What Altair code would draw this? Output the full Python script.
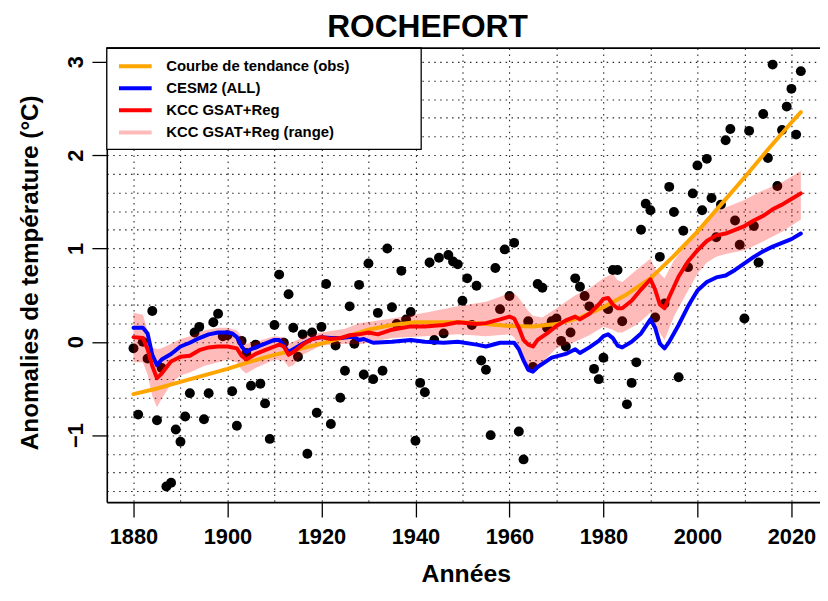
import altair as alt
import pandas as pd

# ---------------- data ----------------
OBS_START = 1880
OBS_VALUES = [
    -0.07, -0.78, 0.00, -0.18, 0.33, -0.84, -0.28, -1.55, -1.51, -0.94,   # 1880-1889
    -1.07, -0.80, -0.55, 0.10, 0.16, -0.83, -0.55, 0.21, 0.30, 0.06,      # 1890-1899
    0.07, -0.53, -0.90, 0.01, -0.12, -0.47, -0.03, -0.45, -0.66, -1.04,   # 1900-1909
    0.18, 0.72, -0.01, 0.51, 0.15, -0.16, 0.08, -1.20, 0.10, -0.76,       # 1910-1919
    0.16, 0.62, -0.88, -0.04, -0.60, -0.31, 0.38, -0.02, 0.61, -0.35,     # 1920-1929
    0.84, -0.40, 0.31, -0.31, 1.00, 0.37, 0.19, 0.76, 0.24, 0.32,         # 1930-1939
    -1.06, -0.44, -0.54, 0.85, 0.02, 0.90, 0.09, 0.93, 0.86, 0.83,        # 1940-1949
    0.44, 0.68, 0.18, 0.60, -0.20, -0.30, -1.00, 0.79, 0.35, 0.99,        # 1950-1959
    0.49, 1.06, -0.96, -1.26, 0.22, -0.27, 0.62, 0.58, 0.15, 0.22,        # 1960-1969
    0.25, 0.01, -0.05, 0.10, 0.68, 0.59, 0.49, 0.38, -0.29, -0.40,        # 1970-1979
    -0.17, 0.35, 0.77, 0.77, 0.22, -0.67, -0.44, -0.22, 1.20, 1.48,       # 1980-1989
    1.41, 0.26, 0.91, 0.41, 1.66, 1.39, -0.38, 1.19, 0.80, 1.59,          # 1990-1999
    1.89, 1.41, 1.96, 1.54, 1.12, 1.47, 2.16, 2.28, 1.30, 1.04,           # 2000-2009
    0.25, 2.26, 1.24, 0.85, 2.44, 1.97, 2.97, 1.67, 2.27, 2.52,           # 2010-2019
    2.71, 2.22, 2.90,                                                      # 2020-2022
]

TREND_YEARS = [1880, 1885, 1890, 1895, 1900, 1905, 1910, 1915, 1920, 1925, 1930,
               1935, 1940, 1945, 1950, 1955, 1960, 1965, 1970, 1975, 1980, 1985,
               1990, 1995, 2000, 2005, 2010, 2015, 2020, 2022]
TREND_VALUES = [-0.56, -0.50, -0.43, -0.36, -0.29, -0.21, -0.14, -0.08, -0.02, 0.05, 0.13,
                0.18, 0.21, 0.21, 0.21, 0.19, 0.17, 0.165, 0.19, 0.26, 0.37, 0.51,
                0.68, 0.92, 1.18, 1.47, 1.76, 2.06, 2.35, 2.46]

CESM_YEARS = [1880, 1882, 1883, 1884, 1885, 1886, 1888, 1890, 1892, 1894, 1896, 1898,
              1900, 1901, 1902, 1903, 1904, 1905, 1906, 1908, 1910, 1911, 1912, 1913,
              1914, 1916, 1918, 1920, 1922, 1924, 1926, 1927, 1928, 1929, 1931, 1935,
              1939, 1942, 1946, 1949, 1953, 1955, 1958, 1961, 1962, 1963, 1964, 1965,
              1966, 1969, 1972, 1974, 1975, 1977, 1979, 1980, 1981, 1982, 1983, 1984,
              1986, 1988, 1990, 1991, 1992, 1993, 1994, 1996, 1998, 2000, 2002, 2004,
              2006, 2008, 2010, 2012, 2014, 2016, 2018, 2020, 2022]
CESM_VALUES = [0.15, 0.15, 0.09, -0.14, -0.25, -0.19, -0.13, -0.05, -0.01, 0.04, 0.08, 0.10,
               0.10, 0.09, 0.05, -0.05, -0.11, -0.08, -0.06, -0.02, 0.02, 0.02, -0.04, -0.11,
               -0.08, -0.02, 0.03, 0.05, 0.04, 0.04, 0.05, 0.05, 0.02, 0.03, -0.01, 0.00,
               0.02, 0.00, -0.01, 0.00, -0.03, -0.05, -0.01, -0.01, -0.08, -0.20, -0.30, -0.32,
               -0.27, -0.17, -0.13, -0.08, -0.12, -0.06, 0.01, 0.06, 0.08, 0.04, -0.04, -0.06,
               0.00, 0.09, 0.24, 0.15, -0.02, -0.07, 0.00, 0.18, 0.38, 0.55, 0.64, 0.69,
               0.71, 0.77, 0.84, 0.91, 0.97, 1.02, 1.06, 1.10, 1.16]

KCC_YEARS = [1880, 1882, 1883, 1884, 1885, 1886, 1888, 1890, 1892, 1894, 1896, 1898,
             1900, 1902, 1903, 1904, 1905, 1906, 1908, 1910, 1911, 1912, 1913, 1914,
             1916, 1918, 1920, 1922, 1924, 1926, 1928, 1930, 1932, 1935, 1939, 1942,
             1946, 1949, 1953, 1955, 1958, 1960, 1961, 1962, 1963, 1964, 1965, 1966,
             1968, 1970, 1972, 1974, 1975, 1977, 1979, 1980, 1981, 1982, 1983, 1984,
             1986, 1988, 1990, 1991, 1992, 1993, 1994, 1996, 1998, 2000, 2002, 2004,
             2006, 2008, 2010, 2012, 2014, 2016, 2018, 2020, 2022]
KCC_VALUES = [0.05, 0.04, -0.08, -0.26, -0.39, -0.34, -0.21, -0.16, -0.15, -0.09, -0.06, -0.05,
              -0.05, -0.07, -0.15, -0.19, -0.16, -0.13, -0.09, -0.05, -0.03, -0.05, -0.14, -0.11,
              -0.03, 0.03, 0.05, 0.03, 0.04, 0.07, 0.08, 0.10, 0.08, 0.13, 0.165, 0.165,
              0.18, 0.21, 0.19, 0.20, 0.24, 0.27, 0.25, 0.15, 0.02, -0.03, -0.05, 0.02,
              0.09, 0.17, 0.23, 0.27, 0.24, 0.30, 0.40, 0.46, 0.47, 0.40, 0.36, 0.36,
              0.44, 0.56, 0.67, 0.56, 0.40, 0.36, 0.48, 0.70, 0.86, 0.98, 1.08, 1.14,
              1.16, 1.20, 1.24, 1.30, 1.35, 1.42, 1.47, 1.53, 1.59]

RANGE_YEARS = [1880, 1882, 1883, 1884, 1885, 1886, 1888, 1890, 1892, 1895, 1898, 1900,
               1902, 1903, 1904, 1906, 1910, 1912, 1913, 1914, 1916, 1920, 1925, 1928,
               1935, 1942, 1949, 1955, 1960, 1961, 1962, 1963, 1964, 1965, 1967, 1970,
               1974, 1977, 1980, 1982, 1983, 1984, 1987, 1990, 1991, 1993, 1995, 1998,
               2000, 2002, 2004, 2006, 2010, 2013, 2018, 2022]
RANGE_LOW = [-0.22, -0.22, -0.35, -0.58, -0.70, -0.61, -0.45, -0.36, -0.33, -0.26, -0.22, -0.19,
             -0.22, -0.30, -0.34, -0.28, -0.19, -0.20, -0.27, -0.25, -0.14, -0.04, -0.02, -0.03,
             0.04, 0.06, 0.08, 0.06, 0.08, 0.05, -0.05, -0.20, -0.28, -0.31, -0.22, -0.07,
             0.00, 0.07, 0.16, 0.13, 0.10, 0.10, 0.18, 0.31, 0.17, 0.02, 0.27, 0.55,
             0.73, 0.85, 0.91, 0.94, 0.98, 1.05, 1.18, 1.31]
RANGE_HIGH = [0.31, 0.29, 0.12, -0.06, -0.08, -0.07, -0.02, 0.03, 0.06, 0.12, 0.15, 0.15,
              0.12, 0.06, -0.02, 0.00, 0.06, 0.05, -0.02, 0.00, 0.05, 0.10, 0.14, 0.20,
              0.25, 0.31, 0.38, 0.43, 0.52, 0.52, 0.47, 0.40, 0.33, 0.28, 0.26, 0.36,
              0.50, 0.57, 0.68, 0.73, 0.66, 0.64, 0.77, 0.89, 0.78, 0.68, 0.87, 1.06,
              1.19, 1.33, 1.40, 1.44, 1.52, 1.60, 1.71, 1.83]

SERIES = ["Courbe de tendance (obs)", "CESM2 (ALL)", "KCC GSAT+Reg", "KCC GSAT+Reg (range)"]
SERIES_COLORS = ["#FFA500", "#0000FF", "#FF0000", "rgba(255,0,0,0.27)"]
SERIES_WIDTHS = [4, 4, 4, 14]

TITLE = "ROCHEFORT"

GRID_X = [1880, 1890, 1900, 1910, 1920, 1930, 1940, 1950, 1960, 1970, 1980, 1990,
          2000, 2010, 2020]
GRID_Y = [-1.6, -1.4, -1.2, -1.0, -0.8, -0.6, -0.4, -0.2, 0.0, 0.2, 0.4, 0.6, 0.8,
          1.0, 1.2, 1.4, 1.6, 1.8, 2.0, 2.2, 2.4, 2.6, 2.8, 3.0]

X_DOMAIN = [1874.32, 2026.08]
Y_DOMAIN = [-1.7176, 3.1476]

# ---------------- frames ----------------
obs_df = pd.DataFrame({"year": list(range(OBS_START, OBS_START + len(OBS_VALUES))),
                       "value": OBS_VALUES})
lines_df = pd.concat([
    pd.DataFrame({"year": TREND_YEARS, "value": TREND_VALUES, "series": SERIES[0]}),
    pd.DataFrame({"year": CESM_YEARS, "value": CESM_VALUES, "series": SERIES[1]}),
    pd.DataFrame({"year": KCC_YEARS, "value": KCC_VALUES, "series": SERIES[2]}),
], ignore_index=True)
lines_df["order"] = lines_df["series"].map({SERIES[0]: 0, SERIES[1]: 1, SERIES[2]: 2})
range_df = pd.DataFrame({"year": RANGE_YEARS, "low": RANGE_LOW, "high": RANGE_HIGH})

W = 719.8
H = 458.3
FONT = "Liberation Sans"

xscale = alt.Scale(domain=X_DOMAIN, nice=False, zero=False)
yscale = alt.Scale(domain=Y_DOMAIN, nice=False, zero=False)

xaxis = alt.Axis(
    values=GRID_X, tickCount=200,
    title="Années",
    grid=True,
    gridDash=[1.5, 4.5], gridColor="black", gridWidth=1.1, gridOpacity=0.85,
    domain=True, domainColor="black", domainWidth=1.6,
    ticks=True, tickSize=15, tickColor="black", tickWidth=1.3,
    tickOpacity={"condition": {"test": "datum.value % 20 != 0", "value": 0}, "value": 1},
    labelExpr="datum.value % 20 == 0 ? datum.label : ''",
    format="d",
    labelFont=FONT, labelFontSize=22, labelFontWeight="bold", labelColor="black",
    labelBaseline="alphabetic", labelPadding=27, labelFlush=False, labelOverlap=False,
    titleFont=FONT, titleFontSize=25, titleFontWeight="bold", titleColor="black",
    titleBaseline="alphabetic", titleAlign="center", titleAnchor="start",
    titleX=362.3, titleY=80,
)
yaxis = alt.Axis(
    values=GRID_Y, tickCount=200,
    title="Anomalies de température (°C)",
    grid=True,
    gridDash=[1.5, 4.5], gridColor="black", gridWidth=1.1, gridOpacity=0.85,
    domain=True, domainColor="black", domainWidth=1.6,
    ticks=True, tickSize=15, tickColor="black", tickWidth=1.3,
    tickOpacity={"condition": {"test": "abs(datum.value - round(datum.value)) > 0.001", "value": 0}, "value": 1},
    labelExpr="abs(datum.value - round(datum.value)) < 0.001 ? format(datum.value, 'd') : ''",
    labelFont=FONT, labelFontSize=22, labelFontWeight="bold", labelColor="black",
    labelAngle=270, labelAlign="center", labelBaseline="alphabetic", labelPadding=9.4,
    labelFlush=False, labelOverlap=False,
    titleFont=FONT, titleFontSize=24.5, titleFontWeight="bold", titleColor="black",
    titleAngle=270, titleBaseline="alphabetic", titleAlign="center", titleAnchor="start",
    titleX=-70.2, titleY=226.3,
)

points = alt.Chart(obs_df).mark_circle(size=100, color="black", opacity=1).encode(
    x=alt.X("year:Q", scale=xscale, axis=xaxis),
    y=alt.Y("value:Q", scale=yscale, axis=yaxis),
)

band = alt.Chart(range_df).mark_area(color="#FF0000", opacity=0.27).encode(
    x=alt.X("year:Q", scale=xscale),
    y=alt.Y("low:Q", scale=yscale),
    y2="high:Q",
)

legend = alt.Legend(
    title=None, orient="none", legendX=21.3, legendY=10.8,
    symbolType="M-3,0H3", symbolSize=121,
    labelFont=FONT, labelFontSize=15, labelFontWeight="bold", labelColor="black",
    labelOffset=23.7, labelLimit=400, rowPadding=5.3, padding=0,
)

lines = alt.Chart(lines_df).mark_line(strokeCap="round", strokeJoin="round").encode(
    x=alt.X("year:Q", scale=xscale),
    y=alt.Y("value:Q", scale=yscale),
    color=alt.Color("series:N", scale=alt.Scale(domain=SERIES, range=SERIES_COLORS),
                    legend=legend, sort=SERIES),
    strokeWidth=alt.StrokeWidth("series:N", scale=alt.Scale(domain=SERIES, range=SERIES_WIDTHS),
                                legend=legend, sort=SERIES),
    order="order:Q",
)

legend_box = alt.Chart(pd.DataFrame({"k": [0]})).mark_rect(
    fill="white", stroke="black", strokeWidth=1.3
).encode(x=alt.value(0), x2=alt.value(317.3), y=alt.value(0), y2=alt.value(102.3))

top_border = alt.Chart(pd.DataFrame({"k": [0]})).mark_rule(
    color="black", strokeWidth=1.8
).encode(x=alt.value(0), x2=alt.value(W), y=alt.value(0))

title_text = alt.Chart(pd.DataFrame({"t": [TITLE]})).mark_text(
    font=FONT, fontSize=32, fontWeight="bold", color="black",
    align="center", baseline="alphabetic"
).encode(text="t:N", x=alt.value(323.7), y=alt.value(-11.4))

chart = alt.layer(points, band, lines, legend_box, top_border, title_text).properties(
    width=W, height=H,
    autosize=alt.AutoSizeParams(type="none"),
    padding={"left": 99.7, "top": 37.7, "right": 0, "bottom": 86},
).configure_view(stroke=None).configure(background="white")

chart.save("out.html", embed_options={"renderer": "svg", "actions": False})
